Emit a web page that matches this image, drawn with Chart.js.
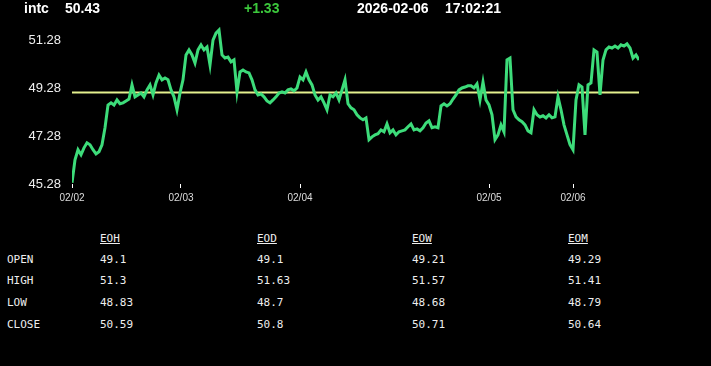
<!DOCTYPE html>
<html>
<head>
<meta charset="utf-8">
<script src="https://cdn.jsdelivr.net/npm/chart.js@4/dist/chart.umd.min.js"></script>
<style>
  body { margin: 0; background: #000; width: 711px; height: 366px; overflow: hidden; position: relative; }
  #c { position: absolute; left: 0; top: 0; }
  .hd { position: absolute; top: 0px; line-height: 17px; font: bold 14px "Liberation Sans", Arial, sans-serif; color: #fff; white-space: pre; }
  .tb { position: absolute; font: 11px "DejaVu Sans Mono", monospace; color: #eee; white-space: pre; line-height: 14px; }
</style>
</head>
<body>
<canvas id="c" width="711" height="215"></canvas>
<div id="header"></div>
<div id="table"></div>
<script>
const symbol = 'intc';
const lastPrice = '50.43';
const change = '+1.33';
const stamp = ['2026-02-06', '17:02:21'];

// intraday closes (one sample every ~3px)
const prices = [
  45.33, 46.29, 46.71, 46.50, 46.79, 47.00, 46.92, 46.71, 46.54, 46.63,
  46.92, 47.63, 48.58, 48.67, 48.58, 48.79, 48.63, 48.67, 48.75, 48.83,
  49.42, 48.92, 49.00, 49.08, 48.92, 49.21, 49.42, 49.00, 49.50, 49.83,
  49.63, 49.71, 49.63, 49.21, 48.92, 48.38, 49.08, 49.63, 50.67, 50.88,
  50.67, 50.33, 50.88, 51.09, 50.88, 51.00, 50.25, 51.29, 51.58, 51.71,
  50.67, 50.54, 50.58, 50.38, 50.46, 49.13, 49.96, 50.04, 49.96, 49.92,
  49.63, 49.21, 49.00, 49.04, 48.92, 48.75, 48.67, 48.79, 48.92, 49.08,
  49.13, 49.08, 49.21, 49.25, 49.17, 49.29, 49.75, 49.63, 49.96, 49.63,
  49.42, 49.00, 48.79, 48.92, 48.67, 48.38, 49.00, 48.92, 49.08, 48.79,
  49.21, 49.63, 48.63, 48.46, 48.38, 48.17, 48.04, 47.96, 48.04, 47.13,
  47.25, 47.33, 47.38, 47.54, 47.46, 47.79, 47.42, 47.54, 47.33, 47.46,
  47.50, 47.54, 47.67, 47.79, 47.54, 47.58, 47.50, 47.63, 47.83, 47.92,
  47.63, 47.67, 47.63, 48.54, 48.63, 48.54, 48.63, 48.83, 49.00, 49.21,
  49.29, 49.33, 49.38, 49.38, 49.29, 49.46, 48.79, 49.54, 48.79, 48.58,
  48.17, 47.13, 47.33, 47.75, 47.46, 50.46, 50.54, 48.38, 48.08, 47.96,
  47.88, 47.75, 47.50, 47.42, 48.38, 48.17, 48.08, 48.13, 48.04, 48.17,
  48.04, 48.08, 48.92, 48.38, 47.75, 47.33, 46.92, 46.71, 48.79, 49.42,
  49.33, 47.33, 49.42, 49.50, 50.88, 50.79, 49.00, 50.46, 50.88, 51.00,
  50.96, 51.04, 50.96, 51.09, 51.04, 51.13, 50.96, 50.54, 50.67, 50.46
];
const refLevel = 49.1;

const dayLabels = ['02/02', '02/03', '02/04', '02/05', '02/06'];
const dayStart = [0, 36.33, 76, 139, 167];
const yTicks = [45.28, 47.28, 49.28, 51.28];

const rowNames = ['OPEN', 'HIGH', 'LOW', 'CLOSE'];
const colNames = ['EOH', 'EOD', 'EOW', 'EOM'];
const eoh = ['49.1', '51.3', '48.83', '50.59'];
const eod = ['49.1', '51.63', '48.7', '50.8'];
const eow = ['49.21', '51.57', '48.68', '50.71'];
const eom = ['49.29', '51.41', '48.79', '50.64'];

// header
const header = document.getElementById('header');
[[symbol, 24, '#fff'], [lastPrice, 65, '#fff'], [change, 244, '#3cc83c'],
 [stamp[0], 357, '#fff'], [stamp[1], 445, '#fff']].forEach(([t, x, col]) => {
  const d = document.createElement('div');
  d.className = 'hd';
  d.style.left = x + 'px';
  d.style.color = col;
  d.textContent = t;
  header.appendChild(d);
});

// table
const table = document.getElementById('table');
const colX = [100, 257, 412, 568];
const rowY = [253, 274, 296, 318];
const cols = [eoh, eod, eow, eom];
function cell(t, x, y, under) {
  const d = document.createElement('div');
  d.className = 'tb';
  d.style.left = x + 'px';
  d.style.top = y + 'px';
  if (under) d.style.textDecoration = 'underline';
  d.textContent = t;
  table.appendChild(d);
}
colNames.forEach((n, j) => cell(n, colX[j], 232, true));
rowNames.forEach((n, i) => {
  cell(n, 7, rowY[i]);
  cols.forEach((c, j) => cell(c[i], colX[j], rowY[i]));
});

const lastIdx = prices.length - 1;
new Chart(document.getElementById('c'), {
  type: 'line',
  data: {
    datasets: [
      {
        data: prices.map((p, i) => ({ x: i, y: p })),
        borderColor: '#3ddc7a',
        borderWidth: 3,
        pointRadius: 0,
        tension: 0
      },
      {
        data: [{ x: 0, y: refLevel }, { x: lastIdx, y: refLevel }],
        borderColor: '#e4f08e',
        borderWidth: 2,
        pointRadius: 0
      }
    ]
  },
  options: {
    responsive: false,
    animation: false,
    devicePixelRatio: 1,
    layout: { padding: { top: 25, right: 72, left: 0, bottom: 0 } },
    plugins: { legend: { display: false }, tooltip: { enabled: false } },
    scales: {
      x: {
        type: 'linear',
        min: 0,
        max: lastIdx,
        afterBuildTicks: s => { s.ticks = dayStart.map(v => ({ value: v })); },
        afterFit: s => { s.height = 31; },
        ticks: {
          color: '#ddd',
          font: { family: 'Liberation Sans', size: 10 },
          padding: 4,
          maxRotation: 0,
          autoSkip: false,
          callback: v => dayLabels[dayStart.indexOf(v)]
        },
        grid: { drawOnChartArea: false, drawTicks: true, tickLength: 4, color: '#fff' },
        border: { display: false }
      },
      y: {
        min: 45.28,
        max: 51.92,
        afterBuildTicks: s => { s.ticks = yTicks.map(v => ({ value: v })); },
        afterFit: s => { s.width = 72; },
        ticks: {
          color: '#eee',
          font: { family: 'Liberation Sans', size: 13 },
          padding: 11,
          callback: v => v.toFixed(2)
        },
        grid: { display: false, drawTicks: false },
        border: { display: false }
      }
    }
  }
});
</script>
</body>
</html>
